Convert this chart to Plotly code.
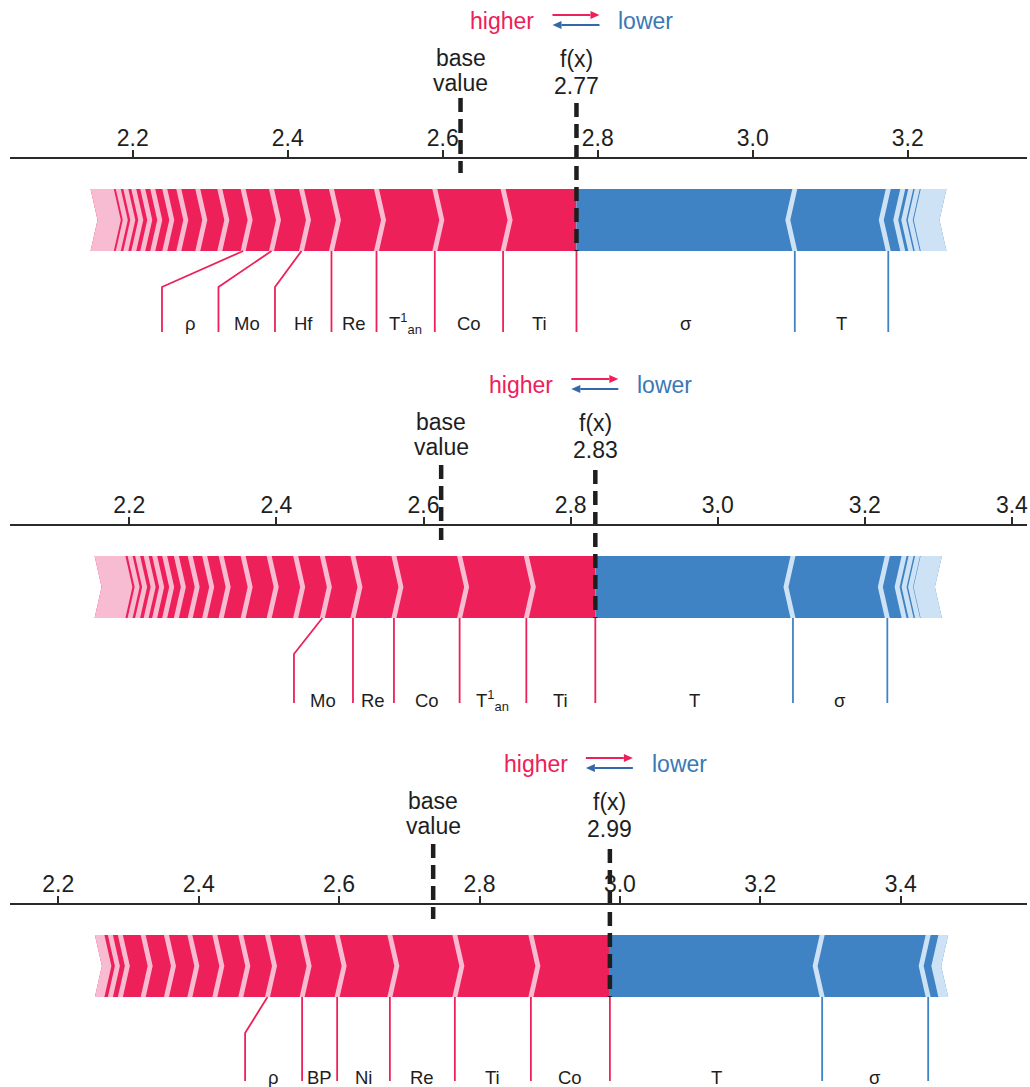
import plotly.graph_objects as go

# ---------------------------------------------------------------------------
# SHAP force-plot data for three samples.
# Positive contributions are listed from f(x) outward (largest first),
# negative contributions likewise.  "small" entries are unlabelled features,
# "other" is the lumped remainder drawn as the faded end of each bar.
# ---------------------------------------------------------------------------

# Sample A
base_a = 2.623
pos_names_a = ["Ti", "Co", "T<sup>1</sup><sub>an</sub>", "Re", "Hf", "Mo", "ρ"]
pos_vals_a = [0.0947, 0.0881, 0.0752, 0.0581, 0.0387, 0.0387, 0.0366]
pos_small_a = [0.0301, 0.0284, 0.0245, 0.0181, 0.0155, 0.0129, 0.0116, 0.0103, 0.0097, 0.0090]
pos_other_a = 0.0268
neg_names_a = ["σ", "T"]
neg_vals_a = [-0.2817, -0.1206]
neg_small_a = [-0.0187, -0.0103, -0.0084, -0.0077]
neg_other_a = -0.0300
ticks_a = [2.2, 2.4, 2.6, 2.8, 3.0, 3.2]

# Sample B
base_b = 2.624
pos_names_b = ["Ti", "T<sup>1</sup><sub>an</sub>", "Co", "Re", "Mo"]
pos_vals_b = [0.0938, 0.0907, 0.0893, 0.0557, 0.0416]
pos_small_b = [0.0363, 0.0360, 0.0354, 0.0299, 0.0224, 0.0197, 0.0188, 0.0159, 0.0136,
               0.0116, 0.0116, 0.0102, 0.0098]
pos_other_b = 0.0385
neg_names_b = ["T", "σ"]
neg_vals_b = [-0.2687, -0.1283]
neg_small_b = [-0.0228, -0.0095, -0.0088, -0.0075]
neg_other_b = -0.0256
ticks_b = [2.2, 2.4, 2.6, 2.8, 3.0, 3.2, 3.4]

# Sample C
base_c = 2.734
pos_names_c = ["Co", "Ti", "Re", "Ni", "BP", "ρ"]
pos_vals_c = [0.1125, 0.1083, 0.0926, 0.0751, 0.0499, 0.0493]
pos_small_c = [0.0380, 0.0370, 0.0356, 0.0333, 0.0332, 0.0325, 0.0142, 0.0121]
pos_other_c = 0.0100
neg_names_c = ["T", "σ"]
neg_vals_c = [-0.3024, -0.1510]
neg_small_c = [-0.0181]
neg_other_c = -0.0104
ticks_c = [2.2, 2.4, 2.6, 2.8, 3.0, 3.2, 3.4]

# ---------------------------------------------------------------------------
# Styling / layout (pixel units on a figure-wide vertical axis)
# ---------------------------------------------------------------------------
W, H = 1030, 1087
X0, X1 = 10, 1027
FONT = "Liberation Sans, Arial, Helvetica, sans-serif"

RED = "#EE2059"
RED_LIGHT = "#F8BCD2"
BLUE = "#3F83C4"
BLUE_LIGHT = "#CDE2F5"
BLUE_TEXT = "#3A78B6"
BLUE_ARROW = "#3568A8"
INK = "#1E1E1E"

CHEVRON_PX = 7
SEP_PX = 5

panels = [
    dict(base=base_a, pn=pos_names_a, pv=pos_vals_a, ps=pos_small_a, po=pos_other_a,
         nn=neg_names_a, nv=neg_vals_a, ns=neg_small_a, no=neg_other_a, ticks=ticks_a,
         xrange=(2.0417, 3.3539), axis_y=158, head_dy=3, lead_len=81, name_dy=72,
         label_box={"Hf": 56.5, "Mo": 56.5, "ρ": 56.5}),
    dict(base=base_b, pn=pos_names_b, pv=pos_vals_b, ps=pos_small_b, po=pos_other_b,
         nn=neg_names_b, nv=neg_vals_b, ns=neg_small_b, no=neg_other_b, ticks=ticks_b,
         xrange=(2.0378, 3.4205), axis_y=525, head_dy=0, lead_len=85, name_dy=82,
         label_box={"Mo": 59}),
    dict(base=base_c, pn=pos_names_c, pv=pos_vals_c, ps=pos_small_c, po=pos_other_c,
         nn=neg_names_c, nv=neg_vals_c, ns=neg_small_c, no=neg_other_c, ticks=ticks_c,
         xrange=(2.1312, 3.5799), axis_y=904, head_dy=0, lead_len=84, name_dy=80,
         label_box={"ρ": 57}),
]

fig = go.Figure()
annotations = []
layout_axes = {}


def poly(xs, ys, color, xa):
    fig.add_trace(go.Scatter(x=xs, y=ys, xaxis=xa, yaxis="y", mode="lines",
                             fill="toself", fillcolor=color, line=dict(width=0, color=color),
                             hoverinfo="skip", showlegend=False))


def path(xs, ys, color, width, xa, dash=None):
    fig.add_trace(go.Scatter(x=xs, y=ys, xaxis=xa, yaxis="y", mode="lines",
                             line=dict(width=width, color=color, dash=dash),
                             hoverinfo="skip", showlegend=False))


for i, p in enumerate(panels):
    xa = "x" if i == 0 else f"x{i + 1}"
    lo, hi = p["xrange"]
    k = (hi - lo) / (X1 - X0)           # data units per pixel
    d = CHEVRON_PX * k
    w = SEP_PX * k

    ay = p["axis_y"]
    top, bot = ay + 31, ay + 93
    mid = (top + bot) / 2

    pos_all = list(p["pv"]) + list(p["ps"]) + [p["po"]]
    neg_all = [abs(v) for v in list(p["nv"]) + list(p["ns"]) + [p["no"]]]
    fx = p["base"] + sum(pos_all) - sum(neg_all)
    left = fx - sum(pos_all)
    right = fx + sum(neg_all)

    # ---- positive (red) part of the bar
    poly([left, fx, fx, left, left + d, left], [top, top, bot, bot, mid, top], RED, xa)
    tail = left + p["po"]
    poly([left, tail, tail + d, tail, left, left + d, left],
         [top, top, mid, bot, bot, mid, top], RED_LIGHT, xa)
    red_bounds = []
    edge = fx
    for v in pos_all[:-1]:
        edge -= v
        red_bounds.append(edge)
    sx, sy = [], []
    for b in red_bounds:
        sx += [b - w / 2, b + w / 2, b + w / 2 + d, b + w / 2, b - w / 2, b - w / 2 + d, b - w / 2, None]
        sy += [top, top, mid, bot, bot, mid, top, None]
    poly(sx, sy, RED_LIGHT, xa)

    # ---- negative (blue) part of the bar
    poly([fx, right, right - d, right, fx, fx], [top, top, mid, bot, bot, top], BLUE, xa)
    tail_b = right - abs(p["no"])
    poly([tail_b, right, right - d, right, tail_b, tail_b - d, tail_b],
         [top, top, mid, bot, bot, mid, top], BLUE_LIGHT, xa)
    blue_bounds = []
    edge = fx
    for v in neg_all[:-1]:
        edge += v
        blue_bounds.append(edge)
    sx, sy = [], []
    for b in blue_bounds:
        sx += [b + w / 2, b - w / 2, b - w / 2 - d, b - w / 2, b + w / 2, b + w / 2 - d, b + w / 2, None]
        sy += [top, top, mid, bot, bot, mid, top, None]
    poly(sx, sy, BLUE_LIGHT, xa)

    # ---- feature label leaders and names
    bend_y, end_y, text_y = bot + 36, bot + p["lead_len"], bot + p["name_dy"]
    name_font = dict(size=18.5, color=INK, family=FONT)
    path([fx, fx], [bot, end_y], RED, 1.8, xa)
    start = fx
    edge = fx
    for name, v in zip(p["pn"], p["pv"]):
        edge -= v
        box_end = start - p["label_box"].get(name, 0) * k
        if box_end > edge:
            path([edge, edge], [bot, end_y], RED, 1.8, xa)
            lx = edge
        else:
            path([edge, box_end, box_end], [bot, bend_y, end_y], RED, 1.8, xa)
            lx = box_end
        annotations.append(dict(x=(lx + start) / 2, y=text_y, xref=xa, yref="y", text=name,
                                showarrow=False, font=name_font,
                                xanchor="center", yanchor="middle"))
        start = lx

    start = fx
    edge = fx
    for name, v in zip(p["nn"], p["nv"]):
        edge += abs(v)
        path([edge, edge], [bot, end_y], BLUE, 1.8, xa)
        annotations.append(dict(x=(edge + start) / 2, y=text_y, xref=xa, yref="y", text=name,
                                showarrow=False, font=name_font,
                                xanchor="center", yanchor="middle"))
        start = edge

    # ---- base value and f(x) markers
    hd = p["head_dy"]
    path([p["base"], p["base"]], [ay - 60, ay + 15], INK, 4.5, xa, dash="14px,7px")
    path([fx, fx], [ay - 55, bot], INK, 4.5, xa, dash="14px,7px")

    big = dict(size=23, color=INK, family=FONT)
    annotations += [
        dict(x=p["base"], y=ay - 103 + hd, xref=xa, yref="y", text="base", showarrow=False,
             font=big, xanchor="center", yanchor="middle", borderpad=0),
        dict(x=p["base"], y=ay - 78 + hd, xref=xa, yref="y", text="value", showarrow=False,
             font=big, xanchor="center", yanchor="middle", borderpad=0),
        dict(x=fx, y=ay - 102 + hd, xref=xa, yref="y", text="f(x)", showarrow=False,
             font=big, xanchor="center", yanchor="middle", borderpad=0),
        dict(x=fx, y=ay - 75 + hd, xref=xa, yref="y", text=f"{fx:.2f}", showarrow=False,
             font=big, xanchor="center", yanchor="middle", borderpad=0),
    ]

    # ---- "higher ⇄ lower" key
    hy = ay - 140 + hd
    annotations += [
        dict(x=fx, y=hy, xref=xa, yref="y", xshift=-40, text="higher", showarrow=False,
             font=dict(size=23, color=RED, family=FONT), xanchor="right", yanchor="middle"),
        dict(x=fx, y=hy, xref=xa, yref="y", xshift=40, text="lower", showarrow=False,
             font=dict(size=23, color=BLUE_TEXT, family=FONT), xanchor="left", yanchor="middle"),
    ]
    a0, a1, head_len, head_half = fx - 24 * k, fx + 23 * k, 9 * k, 4
    ry, by = hy - 6, hy + 4
    path([a0, a1 - head_len], [ry, ry], RED, 2, xa)
    poly([a1 - head_len, a1, a1 - head_len, a1 - head_len],
         [ry - head_half, ry, ry + head_half, ry - head_half], RED, xa)
    path([a0 + head_len, a1], [by, by], BLUE_ARROW, 2, xa)
    poly([a0 + head_len, a0, a0 + head_len, a0 + head_len],
         [by - head_half, by, by + head_half, by - head_half], BLUE_ARROW, xa)

    ax_cfg = dict(domain=[X0 / W, X1 / W], range=[lo, hi], anchor="free",
                  position=1 - ay / H, side="top", showline=True, linecolor="#2A2A2A",
                  linewidth=2, ticks="outside", ticklen=7, tickwidth=1.5, tickcolor="#2A2A2A",
                  tickvals=p["ticks"], ticktext=[f"{t:.1f}" for t in p["ticks"]],
                  tickfont=dict(size=23, color=INK, family=FONT), ticklabelstandoff=-5,
                  showgrid=False, zeroline=False, fixedrange=True)
    if i > 0:
        ax_cfg["overlaying"] = "x"
    layout_axes["xaxis" if i == 0 else f"xaxis{i + 1}"] = ax_cfg

fig.update_layout(
    width=W, height=H,
    margin=dict(l=0, r=0, t=0, b=0),
    paper_bgcolor="white", plot_bgcolor="white",
    showlegend=False,
    yaxis=dict(domain=[0, 1], range=[H, 0], visible=False, fixedrange=True),
    annotations=annotations,
    **layout_axes,
)

fig.write_html("out.html")
